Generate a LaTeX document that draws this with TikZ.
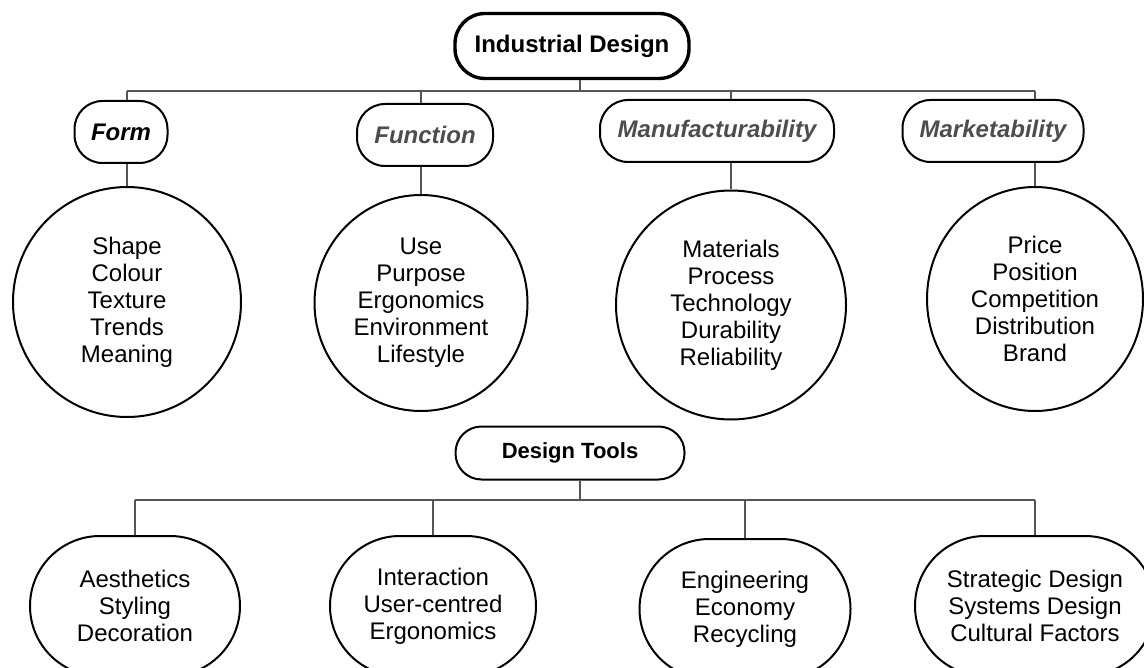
\documentclass[tikz,border=0pt]{standalone}
\usepackage{fontspec}
\setmainfont{Liberation Sans}
\usetikzlibrary{shapes.geometric}

\definecolor{linegray}{HTML}{555555}
\definecolor{headgray}{HTML}{4D4D4D}

\tikzset{
  titlebox/.style={draw, rectangle, rounded corners=15pt, line width=1.7pt,
    inner sep=0pt, font=\fontsize{12}{13.5}\selectfont\bfseries},
  head/.style={draw, rectangle, rounded corners=14pt, line width=1pt,
    minimum height=31pt, inner sep=0pt, text=headgray,
    font=\fontsize{12}{13.5}\selectfont\bfseries\itshape},
  blob/.style={draw, ellipse, line width=1pt, inner sep=0pt, align=center,
    font=\fontsize{12}{13.5}\selectfont},
  pill/.style={draw, rectangle, rounded corners=35pt, line width=1pt,
    minimum height=70pt, inner sep=0pt, align=center,
    font=\fontsize{12}{13.5}\selectfont},
  link/.style={draw=linegray, line width=1pt}
}

\begin{document}
\begin{tikzpicture}[x=0.5pt, y=-0.5pt]
  \useasboundingbox (0,0) rectangle (1144,668);
  \clip (0,0) rectangle (1144,668);

  % top level
  \path (572,46) node[titlebox, minimum width=117pt, minimum height=32.5pt] (indus) {Industrial Design};
  \coordinate (bar1) at (580,91);

  \path (121,132) node[head, minimum width=46.5pt, text=black] (form) {Form};
  \path (425,135) node[head, minimum width=68pt] (func) {Function};
  \path (717,131) node[head, minimum width=117pt] (manu) {Manufacturability};
  \path (993,131) node[head, minimum width=90.5pt] (mark) {Marketability};

  \path (127,302) node[blob, minimum width=114pt, minimum height=115pt] (c-form)
    {Shape\\Colour\\Texture\\Trends\\Meaning};
  \path (421,303) node[blob, minimum width=106.5pt, minimum height=108pt] (c-func)
    {Use\\Purpose\\Ergonomics\\Environment\\Lifestyle};
  \path (731,305) node[blob, minimum width=115pt, minimum height=114.5pt] (c-manu)
    {Materials\\Process\\Technology\\Durability\\Reliability};
  \path (1035,299) node[blob, minimum width=108pt, minimum height=112pt] (c-mark)
    {Price\\Position\\Competition\\Distribution\\Brand};

  \draw[link] (indus.south -| bar1) -- (bar1);
  \draw[link] (c-form |- bar1) -- (c-mark |- bar1);
  \foreach \b in {form,func,manu,mark} {
    \draw[link] (c-\b |- bar1) -- (c-\b |- \b.north);
    \draw[link] (\b.south -| c-\b) -- (c-\b.north);
  }

  % design tools
  \path (570,453) node[titlebox, line width=1pt, rounded corners=13pt, minimum width=114.5pt,
    minimum height=26.5pt, font=\fontsize{11}{13}\selectfont\bfseries] (tools) {Design Tools};
  \coordinate (bar2) at (580,500);

  \path (135,606) node[pill, minimum width=105pt] (aesth) {Aesthetics\\Styling\\Decoration};
  \path (433,606) node[pill, minimum width=103pt] (inter) {Interaction\\User-centred\\Ergonomics};
  \path (745,609) node[pill, minimum width=105.5pt] (engin) {Engineering\\Economy\\Recycling};
  \path (1035,606) node[pill, minimum width=120pt] (strat)
    {Strategic Design\\Systems Design\\Cultural Factors};

  \draw[link] (tools.south -| bar2) -- (bar2);
  \draw[link] (aesth |- bar2) -- (strat |- bar2);
  \foreach \t in {aesth,inter,engin,strat}
    \draw[link] (\t |- bar2) -- (\t.north);
\end{tikzpicture}
\end{document}
